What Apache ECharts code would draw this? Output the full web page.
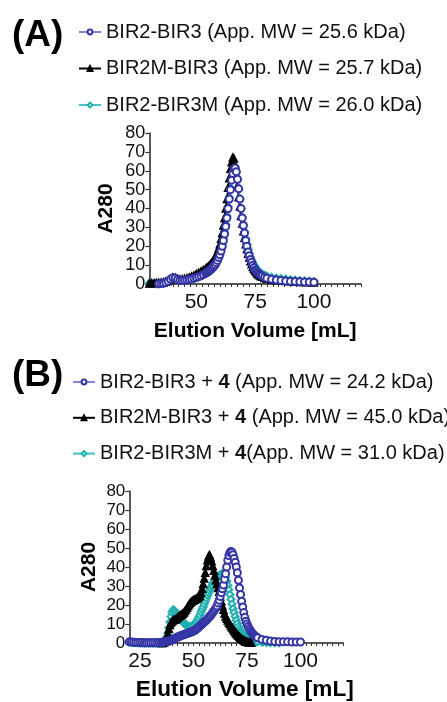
<!DOCTYPE html>
<html><head><meta charset="utf-8">
<script src="https://cdn.jsdelivr.net/npm/echarts@6/dist/echarts.min.js"></script>
<style>html,body{margin:0;padding:0;background:#fff}#c{width:447px;height:702px}</style>
</head><body><div id="c"></div><script>
// ---------- Panel A ----------
const volA = [30,31,32,33,34,35,36,37,38,39,40,41,42,43,44,45,46,47,48,49,50,51,52,53,
  54,54.5,55,55.5,56,56.5,57,57.5,58,58.5,59,59.5,60,60.5,61,61.5,62,62.5,63,63.5,64,64.5,65,65.5,66,66.5,67,67.5,68,68.5,69,69.5,70,70.5,71,71.5,72,72.5,73,73.5,74,74.5,75,75.5,76,76.5,77,77.5,78,
  79,80,82,84,86,88,90,92,94,96,98,100];
const blueA = [null,null,null,null,0.1,0.2,0.4,0.8,1.5,2.5,3.3,3.0,2.3,1.9,1.8,1.9,2.1,2.4,2.7,3.0,3.4,3.9,4.4,5.0,
  5.7,6.1,6.5,7.0,7.5,8.1,8.7,9.4,10.2,11.3,12.5,14.0,15.5,17.5,20.0,23.0,26.5,30.5,35.0,40.0,45.0,50.0,55.0,58.5,61.0,61.5,59.5,55.5,50.5,45.0,40.0,35.0,31.0,27.0,23.0,20.0,17.0,15.0,13.0,11.5,10.0,8.7,7.6,6.8,6.0,5.5,5.0,4.6,4.2,
  3.6,3.1,2.5,2.1,1.8,1.6,1.4,1.3,1.2,1.1,1.0,0.9];
const blackA = [0.3,0.4,0.5,0.6,0.7,0.8,1.0,1.2,1.6,2.5,3.5,3.3,2.8,2.5,2.6,2.8,3.1,3.5,4.0,4.6,5.3,6.0,6.7,7.4,
  8.2,8.7,9.2,9.8,10.5,11.2,12.0,13.0,14.0,15.5,17.0,19.0,21.0,24.0,27.0,31.0,35.0,40.0,45.0,51.0,56.0,61.0,64.5,67.0,66.5,63.0,58.0,52.0,46.0,41.0,36.0,32.0,28.0,24.5,21.0,18.5,16.0,14.0,12.0,10.5,9.0,8.0,7.0,6.2,5.5,5.0,4.5,4.1,3.8,
  3.2,2.8,2.3,2.0,1.8,1.6,1.4,1.2,1.1,1.0,0.9,0.8];
const cyanA = [0.4,0.3,0.2,0.2,0.2,0.3,0.5,0.9,1.5,2.4,3.1,2.9,2.3,2.0,1.9,2.0,2.2,2.5,2.8,3.1,3.5,4.0,4.5,5.1,
  5.8,6.2,6.6,7.1,7.7,8.3,9.0,9.8,10.7,11.8,13.0,14.6,16.3,18.5,21.0,24.0,27.5,31.5,36.0,41.0,46.0,51.0,56.0,60.0,62.5,62.0,59.5,55.0,50.0,45.0,40.0,35.5,31.5,27.5,24.0,21.0,18.5,16.2,14.2,12.6,11.2,10.0,9.0,8.1,7.3,6.7,6.1,5.6,5.2,
  4.6,4.1,3.5,3.1,2.8,2.5,2.2,2.0,1.8,1.6,1.4,1.3];
const namesA = ['BIR2-BIR3 (App. MW = 25.6 kDa)','BIR2M-BIR3 (App. MW = 25.7 kDa)','BIR2-BIR3M (App. MW = 26.0 kDa)'];
const xLabelsA = [50,75,100];

// ---------- Panel B ----------
const volB = [20,21,22,23,24,25,26,27,28,29,30,31,32,33,34,35,
  35.5,36,36.5,37,37.5,38,38.5,39,39.5,40,40.5,41,41.5,42,42.5,43,43.5,44,44.5,45,45.5,46,46.5,47,47.5,48,48.5,49,49.5,50,
  50.5,51,51.5,52,52.5,53,53.5,54,54.5,55,55.5,56,56.5,57,57.5,58,58.5,59,59.5,60,60.5,61,61.5,62,62.5,63,63.5,64,64.5,65,
  65.5,66,66.5,67,67.5,68,68.5,69,69.5,70,70.5,71,71.5,72,72.5,73,73.5,74,74.5,75,75.5,76,76.5,77,77.5,78,78.5,79,79.5,80,
  82,84,86,88,90,92,94,96,98,100];
const blueB = [0.6,0.5,0.4,0.3,0.3,0.2,0.2,0.1,0.1,0.1,0.1,0.1,0.1,0.1,0.2,0.3,
  0.4,0.5,0.6,0.7,0.8,0.9,1.0,1.2,1.4,1.6,1.9,2.2,2.5,2.8,3.1,3.3,3.5,3.8,4.0,4.2,4.4,4.6,4.8,5.0,5.2,5.4,5.6,5.8,6.0,6.3,
  6.6,7.0,7.4,7.9,8.4,9.0,9.5,10.0,10.5,11.0,11.5,12.0,12.6,13.2,13.8,14.5,15.2,16.0,16.8,17.6,18.5,19.5,21.0,22.5,24.5,26.5,28.5,30.5,33.5,36.5,
  40.0,43.5,46.0,47.6,48.2,47.8,46.5,44.5,42.5,40.0,37.0,33.0,29.0,25.5,22.0,19.0,16.0,13.5,11.5,10.0,8.7,7.6,6.6,5.8,5.1,4.5,3.9,3.4,3.0,2.7,
  1.9,1.4,1.0,0.8,0.7,0.6,0.6,0.5,0.5,0.5];
const blackB = [null,null,null,null,null,null,null,null,null,null,null,null,null,null,null,0,
  0,0.2,0.5,1.2,2.8,5.0,7.5,9.5,10.8,11.5,12.0,12.2,12.4,12.8,13.3,13.8,14.3,14.7,15.0,15.4,16.0,16.8,17.6,18.5,19.5,20.4,21.2,21.8,22.2,22.5,
  22.8,23.1,23.4,23.8,24.3,25.0,26.5,28.5,31.0,34.0,37.0,40.5,43.5,45.5,46.3,45.0,43.0,40.5,38.0,35.5,33.0,31.0,29.0,27.0,24.5,22.0,19.5,17.5,15.5,14.0,
  12.8,11.8,10.8,10.0,9.0,8.2,7.4,6.5,5.7,5.0,4.4,3.8,3.2,2.7,2.2,1.8,1.4,1.1,0.8,0.6,0.4,0.3,0.2,0.1,null,null,null,null,null,null,
  null,null,null,null,null,null,null,null,null,null];
const cyanB = [0.5,0.4,0.3,0.2,0.1,0,0,0,0,0,0,0,0,0,0,0,
  0,0.2,0.6,1.5,3.0,5.0,8.0,11.0,14.0,16.2,17.4,17.2,16.4,15.5,14.7,14.0,13.2,12.5,11.8,11.2,10.6,10.0,9.5,9.1,8.8,8.6,8.6,8.7,9.0,9.4,
  10.0,10.7,11.5,12.5,13.6,14.8,16.2,17.6,19.0,20.5,22.0,23.5,25.0,26.3,27.6,28.8,30.0,31.0,32.0,33.0,33.8,34.5,35.0,35.4,35.8,36.2,36.6,36.7,36.0,34.5,
  32.5,30.3,28.0,25.5,23.0,20.5,18.0,16.0,14.0,12.0,10.2,8.6,7.2,6.2,5.4,4.7,4.1,3.6,3.2,2.8,2.5,2.2,1.9,1.6,1.4,1.2,1.0,0.9,0.8,0.7,
  0.5,0.3,0.2,0.1,0.1,null,null,null,null,null];
const namesB = ['BIR2-BIR3 + 4 (App. MW = 24.2 kDa)','BIR2M-BIR3 + 4 (App. MW = 45.0 kDa)','BIR2-BIR3M + 4(App. MW = 31.0 kDa)'];
const xLabelsB = [25,50,75,100];

const BLUE = '#3535a6', BLUE_LINE = '#8383cf', BLACK = '#000000', CYAN = '#1fb0b0', CYAN_LINE = '#45c3c3';
const FONT = '"Liberation Sans", Arial, Helvetica, sans-serif';

function pairs(vol, vals){ return vol.map((v,i)=>[v, vals[i]]); }
function series(name, vol, vals, gi, sym, col, lineCol, z){
  return {type:'line', name, xAxisIndex:gi, yAxisIndex:gi, data:pairs(vol, vals),
    symbol:sym, symbolSize:7, showSymbol:true, z:z, emphasis:{disabled:true},
    itemStyle:{color:col, borderColor:col, borderWidth:1.5},
    lineStyle:{color:lineCol, width:1.5}};
}
function xAxis(gi, min, labels, gap, fs, pad){
  return {type:'value', gridIndex:gi, min:min, max:120, interval:2.5,
    axisLine:{show:true, lineStyle:{color:'#222', width:1.5}},
    axisTick:{show:true, length:3, lineStyle:{color:'#333', width:1}},
    axisLabel:{customValues:labels, fontSize:21, color:'#111', margin:8, fontFamily:FONT},
    splitLine:{show:false},
    name:'Elution Volume [mL]', nameLocation:'middle', nameGap:gap,
    nameTextStyle:{fontSize:fs, fontWeight:'bold', color:'#000', fontFamily:FONT, padding:pad}};
}
function yAxis(gi, fs, gap){
  return {type:'value', gridIndex:gi, min:0, max:80, interval:10,
    axisLine:{show:true, lineStyle:{color:'#222', width:1.5}},
    axisTick:{show:true, length:4, lineStyle:{color:'#333', width:1.2}},
    axisLabel:{fontSize:fs, color:'#111', margin:4, fontFamily:FONT},
    splitLine:{show:false},
    name:'A280', nameLocation:'middle', nameGap:gap,
    nameTextStyle:{fontSize:21, fontWeight:'bold', color:'#000', fontFamily:FONT}};
}

const chart = echarts.init(document.getElementById('c'), null, {renderer:'canvas'});
chart.setOption({
  animation:false,
  backgroundColor:'#fff',
  textStyle:{fontFamily:FONT},
  title:[
    {text:'(A)', left:12, top:17, padding:0, textStyle:{fontSize:37, fontWeight:'bold', color:'#000', fontFamily:FONT}},
    {text:'(B)', left:12, top:357, padding:0, textStyle:{fontSize:37, fontWeight:'bold', color:'#000', fontFamily:FONT}}
  ],
  legend:[
    {data:namesA, orient:'vertical', left:78, top:21, padding:0, itemWidth:22, itemHeight:6, itemGap:14.5,
     selectedMode:false, textStyle:{fontSize:20, lineHeight:22, color:'#111', fontFamily:FONT}},
    {data:namesB, orient:'vertical', left:72, top:371, padding:0, itemWidth:22, itemHeight:6, itemGap:13.8,
     selectedMode:false,
     formatter:function(n){ return n.replace('+ 4', '+ {b|4}'); },
     textStyle:{fontSize:20, lineHeight:22, color:'#111', fontFamily:FONT,
       rich:{b:{fontSize:20, lineHeight:22, fontWeight:'bold', color:'#111', fontFamily:FONT}}}}
  ],
  grid:[
    {left:149.3, top:133, width:211.7, height:151, outerBoundsMode:'none'},
    {left:129.3, top:491, width:214, height:152, outerBoundsMode:'none'}
  ],
  xAxis:[ xAxis(0, 30, xLabelsA, 37, 21, [0,0,0,0]), xAxis(1, 20, xLabelsB, 35, 22.6, [0,0,0,17]) ],
  yAxis:[ yAxis(0, 18, 33), yAxis(1, 17, 30) ],
  series:[
    series(namesA[2], volA, cyanA, 0, 'emptyDiamond', CYAN, CYAN_LINE, 2),
    series(namesA[1], volA, blackA, 0, 'triangle', BLACK, BLACK, 3),
    series(namesA[0], volA, blueA, 0, 'emptyCircle', BLUE, BLUE_LINE, 4),
    series(namesB[2], volB, cyanB, 1, 'emptyDiamond', CYAN, CYAN_LINE, 2),
    series(namesB[1], volB, blackB, 1, 'triangle', BLACK, BLACK, 3),
    series(namesB[0], volB, blueB, 1, 'emptyCircle', BLUE, BLUE_LINE, 4)
  ]
});
</script></body></html>
